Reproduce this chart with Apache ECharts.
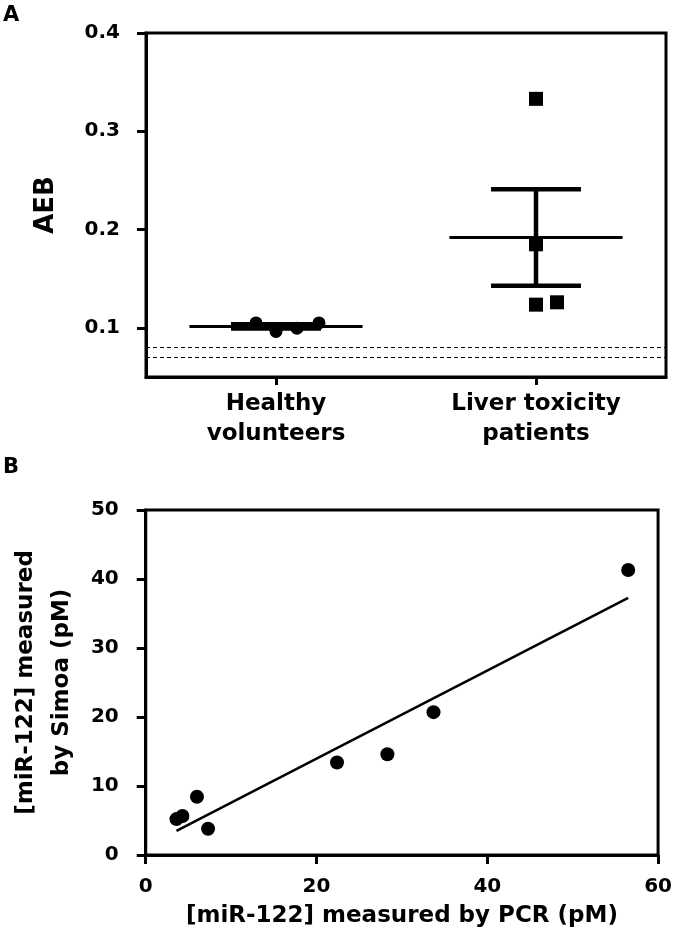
<!DOCTYPE html>
<html>
<head>
<meta charset="utf-8">
<script src="https://cdn.jsdelivr.net/npm/echarts@6/dist/echarts.min.js"></script>
<style>
  html, body { margin: 0; padding: 0; background: #fff; }
  #chart { width: 675px; height: 939px; }
</style>
</head>
<body>
<div id="chart"></div>
<script>
// ---------- Panel A data ----------
const groupCategories = ['Healthy\nvolunteers', 'Liver toxicity\npatients'];
const healthyAEB = [0.105, 0.0963, 0.0997, 0.105];
const liverAEB = [0.333, 0.185, 0.1236, 0.126];
const aebTicks = [0.1, 0.2, 0.3, 0.4];
const thresholdLines = [0.077, 0.066];

// ---------- Panel B data ----------
const pcrValues =   [3.6, 4.3, 6.0, 7.3, 22.4, 28.3, 33.7, 56.5];
const simoaValues = [5.2, 5.65, 8.45, 3.8, 13.4, 14.6, 20.7, 41.3];

// ---------- styling (not data) ----------
const healthyJitterPx = [-20, 0, 21, 43];
const liverJitterPx = [0, 0, 0, 21];
const FONT = "'DejaVu Sans', 'Liberation Sans', Arial, sans-serif";

// statistics derived from data
function meanSem(arr) {
  const n = arr.length;
  const m = arr.reduce((a, b) => a + b, 0) / n;
  const sd = Math.sqrt(arr.reduce((a, b) => a + (b - m) * (b - m), 0) / (n - 1));
  return [m, sd / Math.sqrt(n)];
}
const hs = meanSem(healthyAEB);
const ls = meanSem(liverAEB);
const summaryData = [[0, hs[0], hs[1]], [1, ls[0], ls[1]]];

// linear regression for panel B
function linReg(xs, ys) {
  const n = xs.length;
  const mx = xs.reduce((a, b) => a + b, 0) / n;
  const my = ys.reduce((a, b) => a + b, 0) / n;
  let sxy = 0, sxx = 0;
  for (let i = 0; i < n; i++) { sxy += (xs[i] - mx) * (ys[i] - my); sxx += (xs[i] - mx) * (xs[i] - mx); }
  const b = sxy / sxx;
  return [my - b * mx, b];
}
const [intercept, slope] = linReg(pcrValues, simoaValues);
const xMin = Math.min(...pcrValues), xMax = Math.max(...pcrValues);
const fitLine = [[xMin, intercept + slope * xMin], [xMax, intercept + slope * xMax]];

const healthyPts = healthyAEB.map((v, i) => ({ value: [0, v], symbolOffset: [healthyJitterPx[i], 0] }));
const liverPts = liverAEB.map((v, i) => ({ value: [1, v], symbolOffset: [liverJitterPx[i], 0] }));
const scatterB = pcrValues.map((x, i) => [x, simoaValues[i]]);

const labelStyle = { color: '#000', fontFamily: FONT, fontWeight: 'bold', fontSize: 20 };
const axisLineStyle = { show: true, lineStyle: { color: '#000', width: 3 } };
const tickStyle = { show: true, length: 9, lineStyle: { color: '#000', width: 3 } };
const black = { color: '#000', opacity: 1 };

const chart = echarts.init(document.getElementById('chart'), null, { renderer: 'canvas' });
chart.setOption({
  animation: false,
  backgroundColor: '#fff',
  title: [
    { text: 'A', left: -2, top: 0, textStyle: { fontFamily: FONT, fontWeight: 'bold', fontSize: 21, color: '#000' } },
    { text: 'B', left: -2, top: 452, textStyle: { fontFamily: FONT, fontWeight: 'bold', fontSize: 21, color: '#000' } }
  ],
  grid: [
    { left: 146, right: 9, top: 33, height: 344, show: true, borderColor: '#000', borderWidth: 3, backgroundColor: 'transparent' },
    { left: 145, right: 11, top: 510, height: 345, show: true, borderColor: '#000', borderWidth: 3, backgroundColor: 'transparent' }
  ],
  xAxis: [
    {
      gridIndex: 0, type: 'category', data: groupCategories, boundaryGap: true,
      axisLine: axisLineStyle,
      axisTick: { show: true, length: 8, alignWithLabel: true, lineStyle: { color: '#000', width: 3 } },
      axisLabel: Object.assign({}, labelStyle, { fontSize: 23, lineHeight: 30, margin: 12, interval: 0 }),
      splitLine: { show: false }
    },
    {
      gridIndex: 1, type: 'value', min: 0, max: 60, interval: 20,
      name: '[miR-122] measured by PCR (pM)', nameLocation: 'middle', nameGap: 50,
      nameTextStyle: Object.assign({}, labelStyle, { fontSize: 23 }),
      axisLine: axisLineStyle, axisTick: tickStyle,
      axisLabel: Object.assign({}, labelStyle, { margin: 22 }),
      splitLine: { show: false }
    }
  ],
  yAxis: [
    {
      gridIndex: 0, type: 'value', min: 0.05, max: 0.4,
      name: 'AEB', nameLocation: 'middle', nameGap: 87,
      nameTextStyle: Object.assign({}, labelStyle, { fontSize: 26 }),
      axisLine: axisLineStyle,
      axisTick: Object.assign({}, tickStyle, { customValues: aebTicks }),
      axisLabel: Object.assign({}, labelStyle, { customValues: aebTicks, margin: 26, formatter: v => v.toFixed(1) }),
      splitLine: { show: false }
    },
    {
      gridIndex: 1, type: 'value', min: 0, max: 50, interval: 10,
      name: '[miR-122] measured\nby Simoa (pM)', nameLocation: 'middle', nameGap: 63,
      nameTextStyle: Object.assign({}, labelStyle, { fontSize: 23, lineHeight: 36 }),
      axisLine: axisLineStyle, axisTick: tickStyle,
      axisLabel: Object.assign({}, labelStyle, { margin: 27 }),
      splitLine: { show: false }
    }
  ],
  series: [
    {
      type: 'custom', xAxisIndex: 0, yAxisIndex: 0, data: summaryData, z: 3,
      encode: { x: 0, y: 1 },
      renderItem: function (params, api) {
        const idx = api.value(0), m = api.value(1), s = api.value(2);
        const c = api.coord([idx, m]);
        const top = api.coord([idx, m + s]);
        const bot = api.coord([idx, m - s]);
        const bw = api.size([1, 0])[0];
        const mh = bw * 0.333, ch = bw * 0.173;
        const st = w => ({ stroke: '#000', lineWidth: w, fill: null });
        return {
          type: 'group',
          children: [
            { type: 'line', shape: { x1: c[0] - mh, y1: c[1], x2: c[0] + mh, y2: c[1] }, style: st(3) },
            { type: 'line', shape: { x1: c[0], y1: top[1], x2: c[0], y2: bot[1] }, style: st(4.5) },
            { type: 'line', shape: { x1: c[0] - ch, y1: top[1], x2: c[0] + ch, y2: top[1] }, style: st(4.5) },
            { type: 'line', shape: { x1: c[0] - ch, y1: bot[1], x2: c[0] + ch, y2: bot[1] }, style: st(4.5) }
          ]
        };
      }
    },
    {
      type: 'scatter', xAxisIndex: 0, yAxisIndex: 0, data: healthyPts, z: 4,
      symbol: 'circle', symbolSize: 13, itemStyle: black,
      markLine: {
        silent: true, symbol: 'none', label: { show: false },
        lineStyle: { color: '#000', width: 1, type: [4, 3], opacity: 1 },
        data: thresholdLines.map(v => ({ yAxis: v }))
      }
    },
    {
      type: 'scatter', xAxisIndex: 0, yAxisIndex: 0, data: liverPts, z: 4,
      symbol: 'rect', symbolSize: 14, itemStyle: black
    },
    {
      type: 'line', xAxisIndex: 1, yAxisIndex: 1, data: fitLine, z: 3,
      symbol: 'none', lineStyle: { color: '#000', width: 2.5 }
    },
    {
      type: 'scatter', xAxisIndex: 1, yAxisIndex: 1, data: scatterB, z: 4,
      symbol: 'circle', symbolSize: 14, itemStyle: black
    }
  ]
});
</script>
</body>
</html>
